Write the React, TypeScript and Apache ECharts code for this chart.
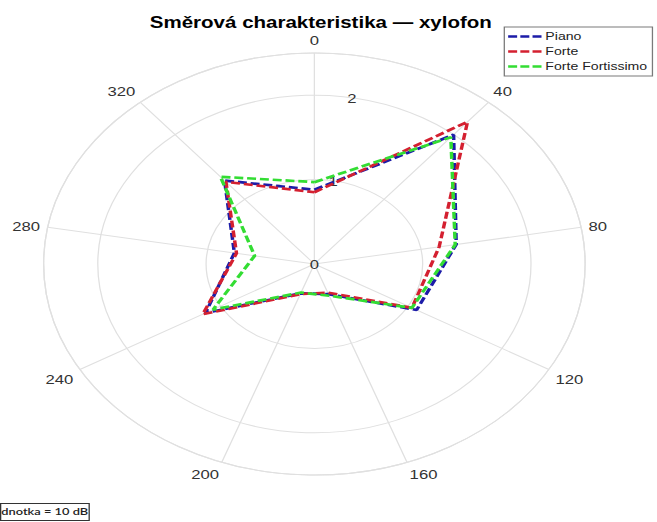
import React, { useEffect, useRef } from 'react';
import * as echarts from 'echarts';

// ---- data ----
const titleText = 'Směrová charakteristika — xylofon';
const noteText = 'dnotka = 10 dB';
const angles = [0, 40, 80, 120, 160, 200, 240, 280, 320];
const piano = [0.88, 2.0, 1.33, 1.09, 0.38, 0.37, 1.16, 0.75, 1.29];
const forte = [0.85, 2.2, 1.17, 1.04, 0.36, 0.38, 1.19, 0.73, 1.27];
const forteFortissimo = [0.97, 1.96, 1.32, 1.04, 0.4, 0.36, 1.08, 0.56, 1.35];
const seriesNames = ['Piano', 'Forte', 'Forte Fortissimo'];
const seriesColors = ['#1c1ca8', '#d42030', '#33dd33'];
const radiusMax = 2.5;
const radiusStep = 1;
const angleStep = 40;

const W = 512;
const H = 522;
const STRETCH = 657 / W;
const CX = 245;
const CY = 264;
const R = 211;
const FONT = "'Liberation Sans', Arial, Helvetica, sans-serif";
const DASH_ICON = 'path://M0,0H7V2.6H0ZM9.5,0H16.5V2.6H9.5ZM19,0H26V2.6H19Z';

function closed(values: number[]) {
  const pts = angles.map((a, i) => [values[i], a]);
  pts.push([values[0], 360]);
  return pts;
}

export default function App() {
  const ref = useRef<HTMLDivElement>(null);
  useEffect(() => {
    if (!ref.current) return;
    const chart = echarts.init(ref.current, null, { renderer: 'svg' });
    const gridColor = '#e0e0e0';
    const all = [piano, forte, forteFortissimo];
    chart.setOption({
      animation: false,
      textStyle: { fontFamily: FONT },
      title: {
        text: titleText,
        left: 245,
        top: 9,
        textAlign: 'center',
        textStyle: { fontFamily: FONT, fontSize: 16, fontWeight: 'bold', color: '#000' },
      },
      legend: {
        data: seriesNames.map((n) => ({ name: n, icon: DASH_ICON })),
        orient: 'vertical',
        left: 393,
        top: 27,
        itemWidth: 26,
        itemHeight: 3,
        itemGap: 4,
        padding: [4, 4, 4, 3],
        borderColor: '#7a7a7a',
        borderWidth: 1,
        backgroundColor: '#ffffff',
        textStyle: { fontFamily: FONT, fontSize: 11, color: '#222', lineHeight: 11, padding: [0, 0, 0, -2] },
      },
      polar: [
        { center: [CX, CY], radius: R },
        { center: [CX, CY], radius: R },
      ],
      angleAxis: [
        {
          polarIndex: 0,
          type: 'value',
          min: 0,
          max: 360,
          interval: angleStep,
          startAngle: 90,
          clockwise: true,
          axisLine: { show: true, lineStyle: { color: gridColor, width: 1 } },
          axisTick: { show: false },
          axisLabel: { margin: 6, fontSize: 13, color: '#333', fontFamily: FONT },
          splitLine: { show: true, lineStyle: { color: gridColor, width: 1 } },
        },
        {
          polarIndex: 1,
          type: 'value',
          min: 0,
          max: 360,
          startAngle: 80,
          clockwise: true,
          show: false,
        },
      ],
      radiusAxis: [
        {
          polarIndex: 0,
          min: 0,
          max: radiusMax,
          interval: radiusStep,
          axisLine: { show: false },
          axisTick: { show: false },
          axisLabel: { show: false },
          splitLine: { show: true, lineStyle: { color: gridColor, width: 1 } },
        },
        {
          polarIndex: 1,
          min: 0,
          max: radiusMax,
          interval: radiusStep,
          axisLine: { show: false },
          axisTick: { show: false },
          splitLine: { show: false },
          axisLabel: {
            margin: 0,
            align: 'center',
            verticalAlign: 'middle',
            showMaxLabel: false,
            fontSize: 13,
            color: '#333',
            fontFamily: FONT,
            formatter: (v: number) => (v > 2 ? '' : String(v)),
          },
        },
      ],
      series: all.map((vals, i) => ({
        name: seriesNames[i],
        type: 'line',
        coordinateSystem: 'polar',
        polarIndex: 0,
        data: closed(vals),
        symbol: 'none',
        z: 3 + i,
        lineStyle: { color: seriesColors[i], width: 2.7, type: [7, 3] },
        itemStyle: { color: seriesColors[i] },
      })),
      graphic: [
        {
          type: 'rect',
          left: 0,
          top: 503,
          shape: { width: 69, height: 17 },
          style: { fill: '#fff', stroke: '#333', lineWidth: 1 },
          z: 10,
        },
        {
          type: 'text',
          left: 1,
          top: 506,
          style: { text: noteText, fontSize: 10, fontWeight: 600, fontFamily: "Lato, 'Open Sans', sans-serif", fill: '#222' },
          z: 11,
        },
      ],
    });
    return () => chart.dispose();
  }, []);
  return (
    <div
      ref={ref}
      style={{
        position: 'absolute',
        left: 0,
        top: 0,
        width: W,
        height: H,
        transform: `scaleX(${STRETCH})`,
        transformOrigin: '0 0',
      }}
    />
  );
}
